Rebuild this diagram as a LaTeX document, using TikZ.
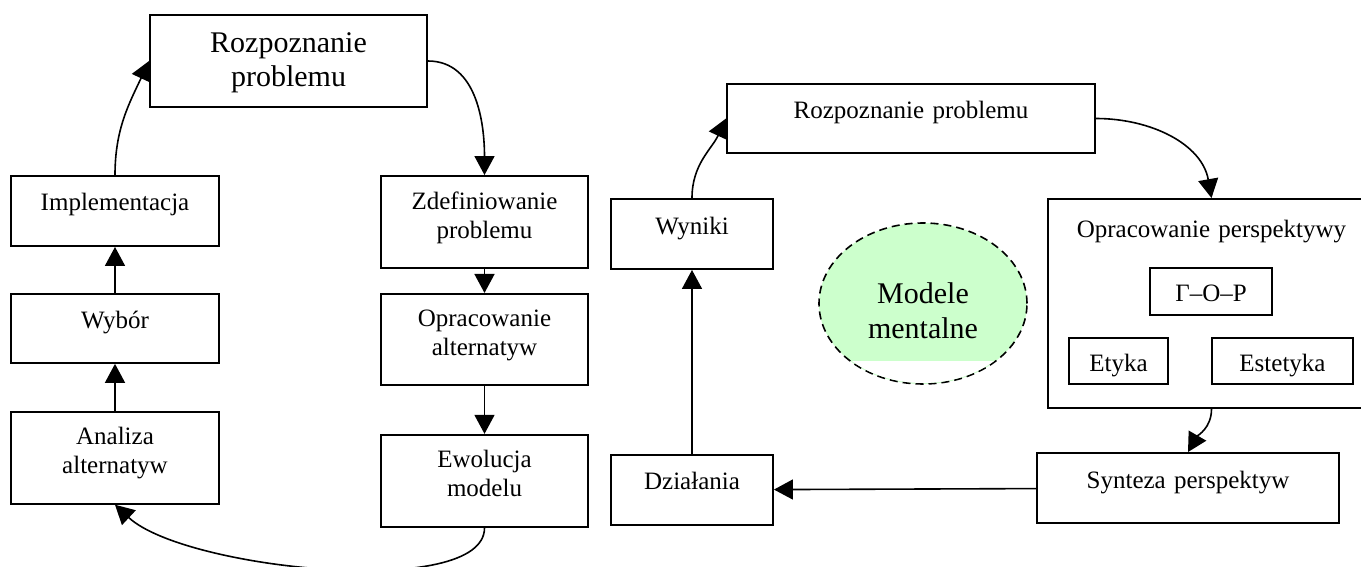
\documentclass[tikz,border=0pt]{standalone}
\usepackage{fontspec}
\setmainfont{Liberation Serif}
\usetikzlibrary{arrows.meta,positioning,shapes.geometric}
\definecolor{zielony}{HTML}{CCFFCC}

\begin{document}
\begin{tikzpicture}[x=1pt, y=-1pt, font=\fontsize{25}{29}\selectfont,
    blok/.style={draw, rectangle, line width=1.9pt, inner sep=0pt, align=center},
    jeden/.style={blok, text height=17pt, text depth=17pt},
    dwa/.style={blok, text height=17pt, text depth=43pt},
    maly/.style={blok, text height=30pt, text depth=10pt},
    strz/.style={line width=1.6pt, -{Triangle[length=19pt, width=20pt]}}]
    \useasboundingbox (0,0) rectangle (1361,567);
    \clip (0,0) rectangle (1361,567);
    % lewy cykl
    \node[dwa, font=\fontsize{30}{34}\selectfont, text height=21pt, text depth=37pt, text width=277pt, minimum height=92pt] (rpl) at (288.5,61) {Rozpoznanie\\problemu};
    \node[jeden, text width=208pt, minimum height=70pt] (impl) at (115,211) {Implementacja};
    \node[jeden, text width=208pt, minimum height=69pt, below=46pt of impl] (wybor) {Wybór};
    \node[dwa, text width=208pt, minimum height=92pt, below=47pt of wybor] (analiza) {Analiza\\alternatyw};
    \node[dwa, text width=207pt, minimum height=92pt] (zdef) at (484.5,222) {Zdefiniowanie\\problemu};
    \node[dwa, text width=207pt, minimum height=91pt, below=24pt of zdef] (oprac) {Opracowanie\\alternatyw};
    \node[dwa, text width=207pt, minimum height=92pt, below=48pt of oprac] (ewol) {Ewolucja\\modelu};
    \draw[strz] (analiza) -- (wybor);
    \draw[strz] (wybor) -- (impl);
    \draw[strz] (impl.north) to[out=90, in=-115] (rpl.west);
    \draw[strz] (rpl.east) to[out=0, in=90] (zdef.north);
    \draw[strz] (zdef) -- (oprac);
    \draw[strz] (oprac) -- (ewol);
    \draw[strz] (ewol.south) .. controls (485,600) and (185,570) .. (analiza.south);
    % prawy cykl
    \node[jeden, text width=368pt, minimum height=69pt] (rpr) at (911,118.5) {Rozpoznanie problemu};
    \node[jeden, text width=162pt, minimum height=70pt] (wyniki) at (692,234) {Wyniki};
    \node[jeden, text width=162pt, minimum height=70pt, below=184pt of wyniki] (dzial) {Działania};
    \node[blok, text width=327pt, minimum height=209pt, text height=17pt, text depth=150pt] (persp) at (1211.5,303.5) {Opracowanie perspektywy};
    \node[maly, text width=122pt, minimum height=47pt] (gop) at (1211,291.5) {Γ–O–P};
    \node[maly, text width=99pt, minimum height=46pt] (etyka) at (1118.5,361) {Etyka};
    \node[maly, text width=141pt, minimum height=46pt] (estetyka) at (1282.5,361) {Estetyka};
    \node[jeden, text width=302pt, minimum height=70pt] (synteza) at (1188,488) {Synteza perspektyw};
    \draw[strz] (dzial) -- (wyniki);
    \draw[strz] (wyniki.north) to[out=90, in=-115] (rpr.west);
    \draw[strz] (rpr.east) to[out=0, in=100] (persp.north);
    \draw[strz] (persp.south) to[out=-90, in=60] (synteza.north);
    \draw[strz] (synteza) -- (dzial);
    % modele mentalne
    \node[ellipse, draw, dash pattern=on 8pt off 5pt, line width=1.6pt, fill=zielony, minimum width=208pt, minimum height=161pt, inner sep=0pt, font=\fontsize{30}{34.5}\selectfont, align=center, text width=130pt, text height=21pt, text depth=21pt] (mm) at (923,303.5) {Modele\\mentalne};
    \begin{scope}
        \clip (mm.center) ellipse [x radius=103, y radius=79.5];
        \fill[white] (842,361) rectangle (1004,400);
    \end{scope}
\end{tikzpicture}
\end{document}
